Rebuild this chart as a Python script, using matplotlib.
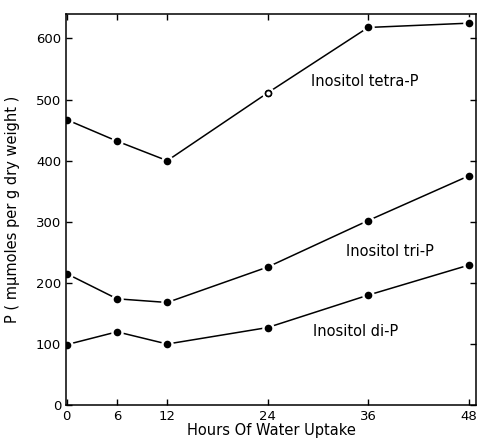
import matplotlib
matplotlib.use("Agg")
import matplotlib.pyplot as plt

hours = [0, 6, 12, 24, 36, 48]
tetra = [467, 432, 400, 511, 618, 625]
tri = [215, 174, 168, 226, 302, 375]
di = [99, 120, 100, 127, 180, 229]
xticks = [0, 6, 12, 24, 36, 48]
yticks = [0, 100, 200, 300, 400, 500, 600]

plt.rcParams['font.family'] = ['DejaVu Sans']
fig = plt.figure(figsize=(4.78, 4.38), dpi=100)
ax = fig.add_axes([0.138, 0.075, 0.858, 0.893])

for ys in (tetra, tri, di):
    ax.plot(hours, ys, color='black', lw=1.1, zorder=1)
    ax.plot(hours, ys, 'o', color='black', ms=6, mec='white', mew=3, zorder=2)
    ax.plot(hours, ys, 'o', color='black', ms=5.5, mec='black', mew=0, zorder=3)

# open marker at 24 h on tetra curve
ax.plot([hours[3]], [tetra[3]], 'o', ms=4.2, mfc='white', mec='black', mew=1.1, zorder=4)

ax.text(29.2, 530, 'Inositol tetra-P', fontsize=10.5, va='center', ha='left')
ax.text(33.3, 252, 'Inositol tri-P', fontsize=10.5, va='center', ha='left')
ax.text(29.4, 121, 'Inositol di-P', fontsize=10.5, va='center', ha='left')

ax.set_xlim(-0.1, 48.9)
ax.set_ylim(0, 640)
ax.set_xticks(xticks)
ax.set_yticks(yticks)
ax.tick_params(direction='in', top=True, right=True, labelsize=9.5, length=4, width=1)
ax.set_xlabel('Hours Of Water Uptake', fontsize=10.5, va='center')
ax.xaxis.set_label_coords(0.5, -0.066)
ax.set_ylabel('P ( mμmoles per g dry weight )', fontsize=10.5, va='center')
ax.yaxis.set_label_coords(-0.13, 0.5)
for s in ax.spines.values():
    s.set_linewidth(1.1)

fig.savefig('out.png', dpi=100)
